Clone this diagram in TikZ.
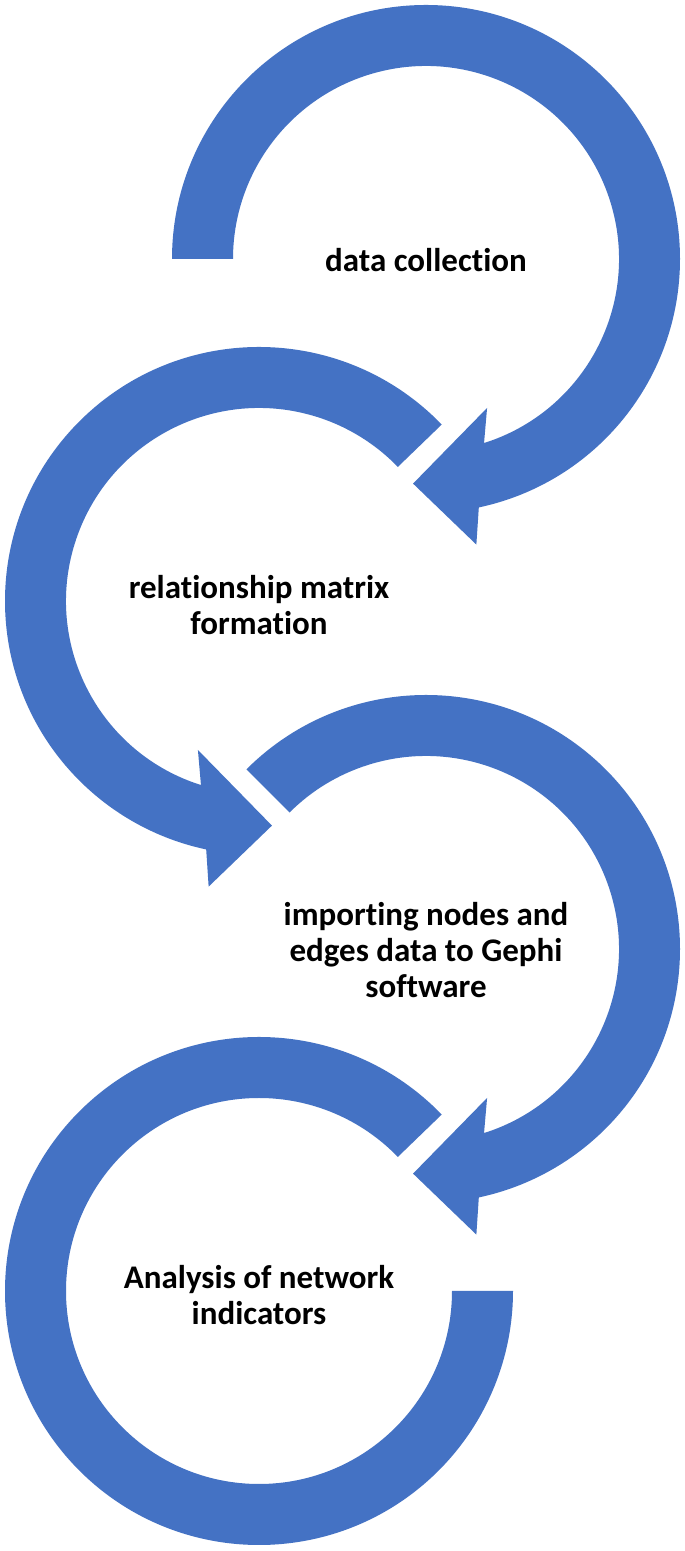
\documentclass[tikz,border=0pt]{standalone}
\usepackage{fontspec}
\setmainfont{Carlito}[Ligatures=NoCommon]
\definecolor{arrowblue}{RGB}{68,114,196}
\tikzset{
  ring/.style={fill=arrowblue, draw=none},
  label/.style={align=center, font=\fontsize{33}{36}\selectfont\bfseries, text=black, inner sep=0pt}
}
\begin{document}
\begin{tikzpicture}[x=1pt, y=1pt]
\path[use as bounding box, fill=white] (0,0) rectangle (685,1551);
\coordinate (c1) at (426,1292);
\coordinate (c2) at (259,950);
\coordinate (c3) at (426,602);
\coordinate (c4) at (259,260);
% arrow 1 (clockwise, flat start at 180)
\begin{scope}[shift={(c1)}]
\fill[ring] (180:254) arc[start angle=180, end angle=-78, radius=254]
  -- (-80:290) -- (-93.3:225) -- (-67.7:161) -- (-72.5:193)
  arc[start angle=-72.5, end angle=180, radius=193] -- cycle;
\end{scope}
% arrow 2 (counterclockwise)
\begin{scope}[shift={(c2)}]
\fill[ring] (44:254) arc[start angle=44, end angle=258, radius=254]
  -- (260:290) -- (273.3:225) -- (247.7:161) -- (252.5:193)
  arc[start angle=252.5, end angle=44, radius=193] -- cycle;
\end{scope}
% arrow 3 (clockwise)
\begin{scope}[shift={(c3)}]
\fill[ring] (135:254) arc[start angle=135, end angle=-78, radius=254]
  -- (-80:290) -- (-93.3:225) -- (-67.7:161) -- (-72.5:193)
  arc[start angle=-72.5, end angle=135, radius=193] -- cycle;
\end{scope}
% arrow 4 (counterclockwise, flat end at 0)
\begin{scope}[shift={(c4)}]
\fill[ring] (44:254) arc[start angle=44, end angle=360, radius=254]
  -- (0:193)
  arc[start angle=360, end angle=44, radius=193] -- cycle;
\end{scope}
\node[label] (t1) at (426,1291) {data collection};
\node[label] (t2) at (259,946) {relationship matrix\\formation};
\node[label] (t3) at (426,601) {importing nodes and\\edges data to Gephi\\software};
\node[label] (t4) at (259,256) {Analysis of network\\indicators};
\end{tikzpicture}
\end{document}
